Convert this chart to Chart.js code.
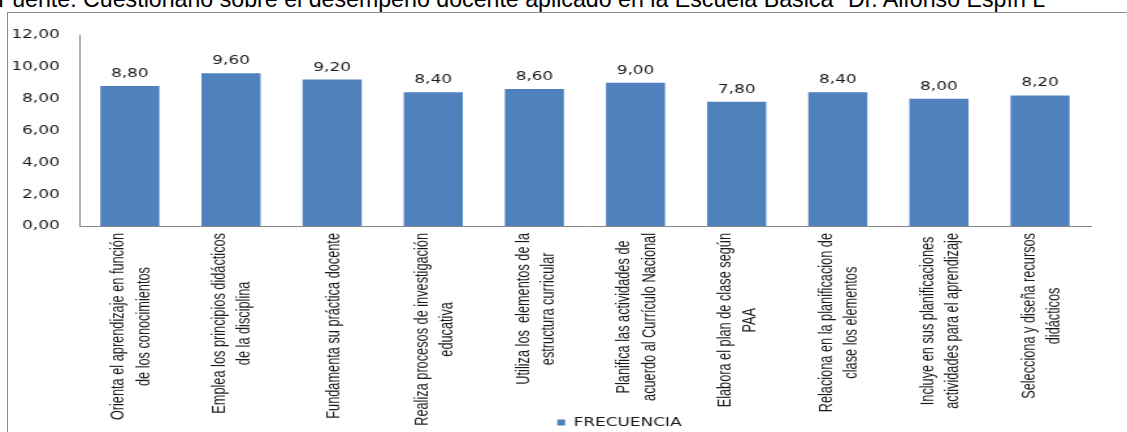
<!DOCTYPE html>
<html>
<head>
<meta charset="utf-8">
<script src="https://cdn.jsdelivr.net/npm/chart.js@4.4.0/dist/chart.umd.min.js"></script>
<style>
  html, body { margin: 0; padding: 0; background: #fff; overflow: hidden; }
  body { width: 1127px; height: 432px; position: relative; }
  #fuente {
    position: absolute; left: -2px; top: -12px;
    font: 23.2px "Liberation Sans", Arial, sans-serif; line-height: 23px;
    color: #000; white-space: nowrap;
  }
  #marco {
    position: absolute; left: 7px; top: 12px; width: 1200px; height: 500px;
    border-left: 1px solid #8c8c8c; border-top: 1px solid #8c8c8c;
  }
  /* el grafico original esta estirado a lo ancho */
  #lienzo {
    position: absolute; left: 0; top: 0; width: 867px; height: 432px;
    transform: scaleX(1.2999); transform-origin: 0 0;
  }
</style>
</head>
<body>
<div id="fuente">Fuente: Cuestionario sobre el desempeño docente aplicado en la Escuela Básica "Dr. Alfonso Espín L</div>
<div id="marco"></div>
<div id="lienzo"><canvas id="grafico" width="867" height="432"></canvas></div>

<script>
// Datos
const categorias = [
    ['Orienta el aprendizaje en función', 'de los conocimientos'],
    ['Emplea los principios didácticos', 'de la disciplina'],
    ['Fundamenta su práctica docente'],
    ['Realiza procesos de investigación', 'educativa'],
    ['Utiliza los  elementos de la', 'estructura curricular'],
    ['Planifica las actividades de', 'acuerdo al Currículo Nacional'],
    ['Elabora el plan de clase según', 'PAA'],
    ['Relaciona en la planificacion de', 'clase los elementos'],
    ['Incluye en sus planificaciones', 'actividades para el aprendizaje'],
    ['Selecciona y diseña recursos', 'didácticos']
];
const frecuencia = [8.80, 9.60, 9.20, 8.40, 8.60, 9.00, 7.80, 8.40, 8.00, 8.20];
const nombreSerie = 'FRECUENCIA';
const ejeYMin = 0;
const ejeYMax = 12;
const ejeYPaso = 2;

const colorBarra = '#4F81BD';
const colorTexto = '#1a1a1a';
const colorEje = '#868686';

function formato(v) {
    return Number(v).toFixed(2).replace('.', ',');
}

// Etiquetas de valores y de categorias
const etiquetas = {
    id: 'etiquetas',
    afterLayout(chart) {
        const lg = chart.legend;
        if (!lg) return;
        lg.left += 57; lg.right += 57;
        lg.top += 7; lg.bottom += 7;
    },
    afterDatasetsDraw(chart) {
        const ctx = chart.ctx;
        const meta = chart.getDatasetMeta(0);
        ctx.save();
        ctx.fillStyle = colorTexto;
        ctx.font = '13px "DejaVu Sans"';
        ctx.textAlign = 'center';
        ctx.textBaseline = 'alphabetic';
        meta.data.forEach((barra, i) => {
            ctx.fillText(formato(frecuencia[i]), barra.x, barra.y - 9);
        });

        // texto de categorias en vertical, algo condensado
        const ejeX = chart.scales.x;
        const estrecho = 0.85;
        ctx.font = '15px "Liberation Sans", sans-serif';
        ctx.textBaseline = 'middle';
        categorias.forEach((lineas, i) => {
            const px = ejeX.getPixelForValue(i);
            const maxW = Math.max(...lineas.map(l => ctx.measureText(l).width)) * estrecho;
            const cy = ejeX.top + 7 + maxW / 2;
            ctx.save();
            ctx.translate(px, cy);
            ctx.rotate(-Math.PI / 2);
            ctx.scale(estrecho, 1);
            lineas.forEach((l, j) => {
                ctx.fillText(l, 0, (j - (lineas.length - 1) / 2) * 19.2 + 1);
            });
            ctx.restore();
        });
        ctx.restore();
    }
};

new Chart(document.getElementById('grafico'), {
    type: 'bar',
    data: {
        labels: categorias,
        datasets: [{
            label: nombreSerie,
            data: frecuencia,
            backgroundColor: colorBarra,
            borderWidth: 0,
            barPercentage: 0.584,
            categoryPercentage: 1
        }]
    },
    options: {
        responsive: false,
        animation: false,
        events: [],
        layout: { padding: { top: 35, right: 28, left: 0, bottom: 0 } },
        plugins: {
            legend: {
                position: 'bottom',
                labels: {
                    boxWidth: 6,
                    boxHeight: 6,
                    padding: 4,
                    color: colorTexto,
                    font: { family: 'DejaVu Sans', size: 13 }
                }
            },
            tooltip: { enabled: false }
        },
        scales: {
            x: {
                grid: { display: false, drawTicks: false },
                border: { color: colorEje, width: 1 },
                ticks: { display: false },
                afterFit(scale) {
                    const lg = scale.chart.legend;
                    scale.height = 206 - (lg ? lg.height : 0);
                }
            },
            y: {
                min: ejeYMin,
                max: ejeYMax,
                grid: { display: false, drawTicks: false },
                border: { color: colorEje, width: 1 },
                ticks: {
                    stepSize: ejeYPaso,
                    padding: 15,
                    color: colorTexto,
                    font: { family: 'DejaVu Sans', size: 13 },
                    callback: v => formato(v)
                },
                afterFit(scale) {
                    scale.width = 61;
                }
            }
        }
    },
    plugins: [etiquetas]
});
</script>
</body>
</html>
